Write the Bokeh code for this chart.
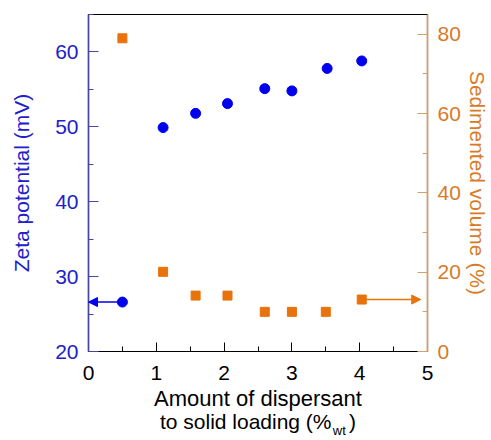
from bokeh.plotting import figure
from bokeh.models import Range1d, LinearAxis, FixedTicker, Arrow, NormalHead
from bokeh.embed import file_html
from bokeh.resources import INLINE

# data
dispersant = [0.5, 1.1, 1.58, 2.05, 2.6, 3.0, 3.52, 4.03]
zeta = [26.6, 49.9, 51.8, 53.1, 55.1, 54.8, 57.8, 58.8]
sed_x = [0.5, 1.1, 1.58, 2.05, 2.6, 3.0, 3.5, 4.03]
sed_volume = [79.0, 20.1, 14.1, 14.1, 10.0, 10.0, 10.0, 13.1]
x_ticks = [0, 1, 2, 3, 4, 5]
zeta_ticks = [20, 30, 40, 50, 60]
sed_ticks = [0, 20, 40, 60, 80]
x_title_1 = "Amount of dispersant"
x_title_2 = "to solid loading (%\u00a0\u00a0\u00a0)"
x_title_sub = "wt"

BLUE = "#0000ee"
BLUE_TXT = "#2020cc"
BLUE_AX = "#4646a0"
ORANGE = "#e8720c"
ORANGE_TXT = "#d97a26"
ORANGE_AX = "#d9a066"
FONT = "Liberation Sans"

p = figure(width=491, height=440, output_backend="svg", toolbar_location=None, title=None,
           x_range=Range1d(0, 5), y_range=Range1d(20, 65),
           min_border_left=88, min_border_right=63, min_border_top=14,
           min_border_bottom=86)
p.extra_y_ranges = {"right": Range1d(0, 85)}
p.grid.visible = False
p.outline_line_color = "black"
p.outline_line_width = 1.2
p.background_fill_color = "white"

# bottom axis
xa = p.xaxis[0]
xa.ticker = FixedTicker(ticks=x_ticks, minor_ticks=[0.5 * i for i in range(11)])
xa.axis_line_color = "black"
xa.axis_line_width = 1.2
xa.major_tick_in = 9
xa.major_tick_out = 0
xa.minor_tick_in = 5
xa.minor_tick_out = 0
xa.major_tick_line_color = "black"
xa.minor_tick_line_color = "black"
xa.major_label_text_font = FONT
xa.major_label_text_font_size = "21px"
xa.major_label_text_color = "black"
xa.major_label_standoff = 14
xa.axis_label = x_title_1
xa.axis_label_text_font = FONT
xa.axis_label_text_font_style = "normal"
xa.axis_label_text_font_size = "22px"
xa.axis_label_text_color = "black"
xa.axis_label_standoff = 3


def title_axis(text, size, standoff):
    ax = LinearAxis(ticker=FixedTicker(ticks=[]), axis_line_color=None,
                    major_tick_in=0, major_tick_out=0, minor_tick_in=0, minor_tick_out=0,
                    major_label_standoff=0, major_label_text_font_size="0px",
                    axis_label=text,
                    axis_label_text_font=FONT, axis_label_text_font_style="normal",
                    axis_label_text_font_size=size, axis_label_text_color="black",
                    axis_label_standoff=standoff)
    p.add_layout(ax, "below")
    return ax


# second line of the x title and its subscript
title_axis(x_title_2, "21px", -4)
title_axis("\u00a0" * 45 + x_title_sub, "13px", -13)

# left axis
ya = p.yaxis[0]
ya.ticker = FixedTicker(ticks=zeta_ticks, minor_ticks=list(range(20, 66, 5)))
ya.axis_line_color = BLUE_AX
ya.axis_line_width = 1.5
ya.major_tick_in = 10
ya.major_tick_out = 0
ya.minor_tick_in = 5
ya.minor_tick_out = 0
ya.major_tick_line_color = BLUE_AX
ya.minor_tick_line_color = BLUE_AX
ya.major_label_text_font = FONT
ya.major_label_text_font_size = "21px"
ya.major_label_text_color = BLUE_TXT
ya.major_label_standoff = 10
ya.axis_label = "Zeta potential (mV)"
ya.axis_label_text_font = FONT
ya.axis_label_text_font_style = "normal"
ya.axis_label_text_font_size = "21px"
ya.axis_label_text_color = BLUE_TXT
ya.axis_label_standoff = 19

# right axis
ra = LinearAxis(y_range_name="right")
ra.ticker = FixedTicker(ticks=sed_ticks, minor_ticks=list(range(0, 86, 10)))
ra.axis_line_color = ORANGE_AX
ra.axis_line_width = 1.5
ra.major_tick_in = 10
ra.major_tick_out = 0
ra.minor_tick_in = 5
ra.minor_tick_out = 0
ra.major_tick_line_color = ORANGE_AX
ra.minor_tick_line_color = ORANGE_AX
ra.major_label_text_font = FONT
ra.major_label_text_font_size = "21px"
ra.major_label_text_color = ORANGE_TXT
ra.major_label_standoff = 10
ra.axis_label = "Sedimented volume (%)"
ra.axis_label_text_font = FONT
ra.axis_label_text_font_style = "normal"
ra.axis_label_text_font_size = "21px"
ra.axis_label_text_color = ORANGE_TXT
ra.axis_label_standoff = 2
p.add_layout(ra, "right")

# arrows
p.add_layout(Arrow(end=NormalHead(size=9, fill_color=BLUE, line_color=BLUE),
                   x_start=dispersant[0], y_start=zeta[0], x_end=0.0, y_end=zeta[0],
                   line_color=BLUE, line_width=1.5))
p.add_layout(Arrow(end=NormalHead(size=9, fill_color=ORANGE, line_color=ORANGE),
                   x_start=sed_x[-1], y_start=sed_volume[-1], x_end=4.9, y_end=sed_volume[-1],
                   line_color=ORANGE, line_width=1.5, y_range_name="right"))

# markers
p.scatter(dispersant, zeta, marker="circle", size=10, fill_color=BLUE, line_color=BLUE)
p.scatter(sed_x, sed_volume, marker="square", size=9, fill_color=ORANGE, line_color=ORANGE,
          y_range_name="right")

open("out.html", "w").write(file_html(p, INLINE))
